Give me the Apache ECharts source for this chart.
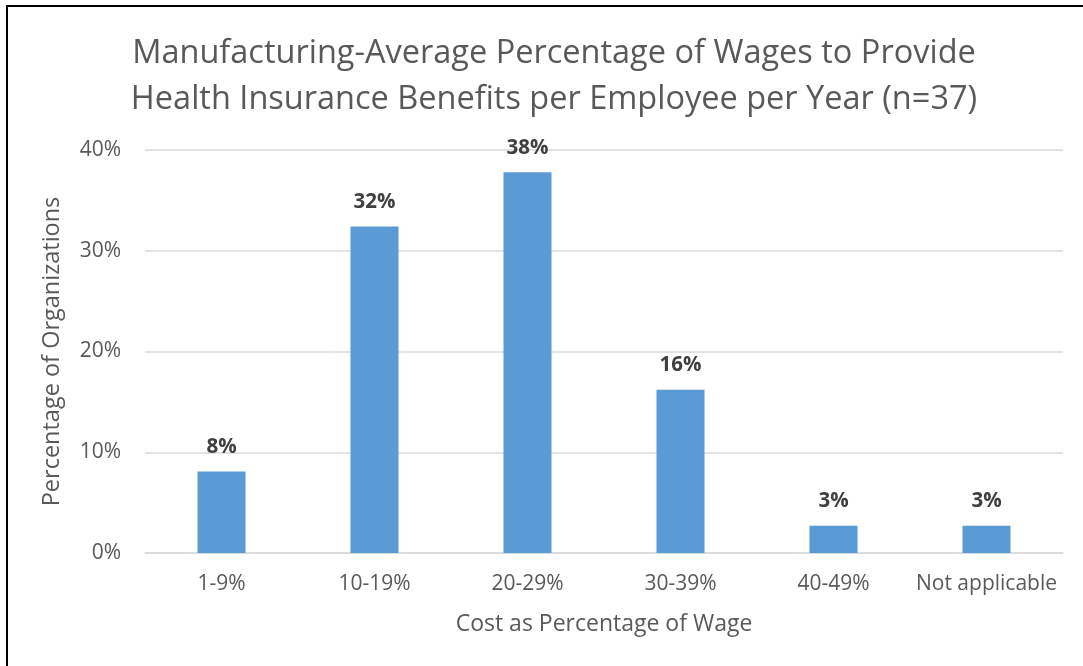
<!DOCTYPE html>
<html>
<head>
<meta charset="utf-8">
<script src="https://cdn.jsdelivr.net/npm/echarts@6/dist/echarts.min.js"></script>
<style>
html,body{margin:0;padding:0;background:#fff;overflow:hidden;}
#frame{position:absolute;left:6px;top:5px;width:1100px;height:700px;border-left:2px solid #000;border-top:2px solid #000;box-sizing:border-box;}
#chart{position:absolute;left:0;top:0;width:1083px;height:666px;}
</style>
</head>
<body>
<div id="frame"></div>
<div id="chart"></div>
<script>
const titleLines = ['Manufacturing-Average Percentage of Wages to Provide', 'Health Insurance Benefits per Employee per Year (n=37)'];
const categories = ['1-9%', '10-19%', '20-29%', '30-39%', '40-49%', 'Not applicable'];
const values = [8.1, 32.4, 37.8, 16.2, 2.7, 2.7];
const yTicks = [0, 10, 20, 30, 40];
const xAxisName = 'Cost as Percentage of Wage';
const yAxisName = 'Percentage of Organizations';

const FONT = '"Open Sans", sans-serif';
const chart = echarts.init(document.getElementById('chart'));
chart.setOption({
  animation: false,
  backgroundColor: 'transparent',
  title: {
    text: titleLines.join('\n'),
    left: 549,
    textAlign: 'center',
    top: 26,
    textStyle: {fontFamily: FONT, fontSize: 32.5, fontWeight: 'normal', color: '#595959', lineHeight: 46}
  },
  grid: {left: 145, right: 20, top: 150, bottom: 113},
  xAxis: {
    type: 'category',
    data: categories,
    name: xAxisName,
    nameLocation: 'middle',
    nameGap: 60,
    nameTextStyle: {fontFamily: FONT, fontSize: 23, color: '#595959'},
    axisLine: {show: true, lineStyle: {color: '#d9d9d9', width: 1.5}},
    axisTick: {show: false},
    axisLabel: {fontFamily: FONT, fontSize: 21, color: '#595959', margin: 21, interval: 0, hideOverlap: false}
  },
  yAxis: {
    type: 'value',
    min: 0, max: 40, interval: 10,
    name: yAxisName,
    nameLocation: 'middle',
    nameGap: 81,
    nameRotate: 90,
    nameTextStyle: {fontFamily: FONT, fontSize: 23.5, color: '#595959'},
    axisLine: {show: false},
    axisTick: {show: false},
    splitLine: {lineStyle: {color: '#d9d9d9', width: 1.5}},
    axisLabel: {
      fontFamily: FONT, fontSize: 21, color: '#595959', margin: 24,
      formatter: v => yTicks.includes(v) ? v + '%' : ''
    }
  },
  series: [{
    type: 'bar',
    data: values,
    barWidth: 48,
    itemStyle: {color: '#5b9bd5'},
    label: {
      show: true, position: 'top', distance: 14,
      fontFamily: FONT, fontSize: 20.5, fontWeight: 'bold', color: '#404040',
      formatter: p => Math.round(p.value) + '%'
    }
  }]
});
</script>
</body>
</html>
